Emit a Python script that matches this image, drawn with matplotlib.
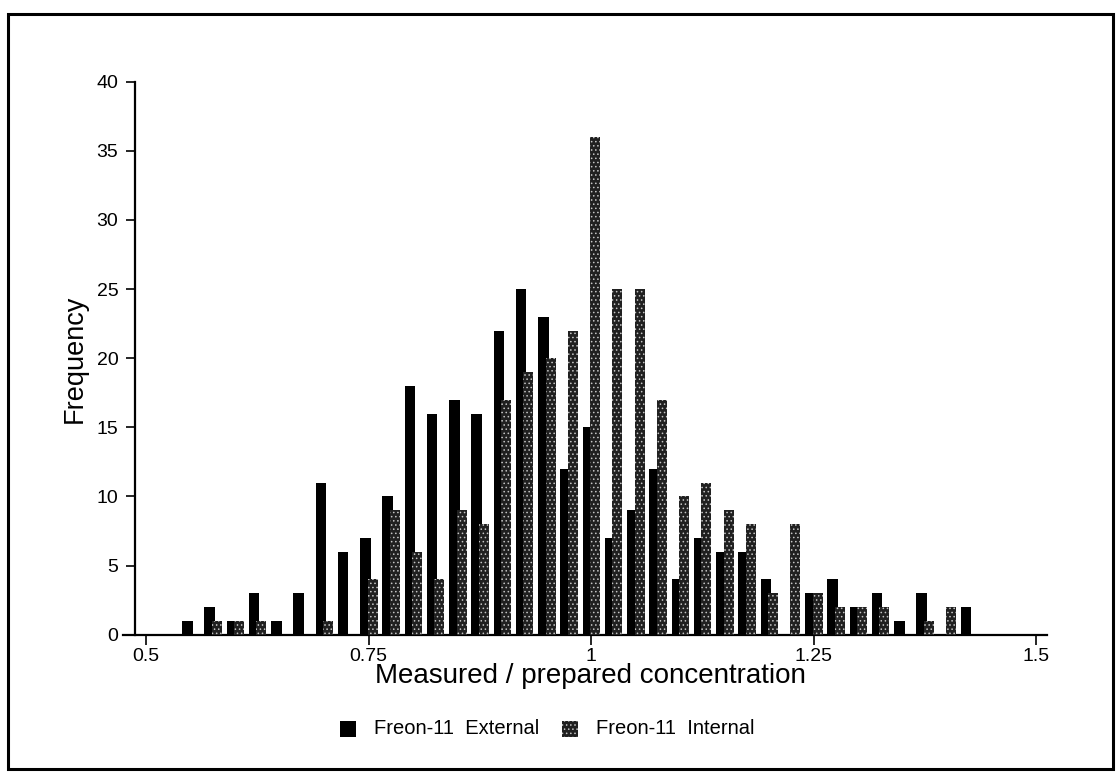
import matplotlib
matplotlib.use("Agg")
import matplotlib.pyplot as plt
from matplotlib import font_manager
from matplotlib.patches import Rectangle

# Histogram of measured / prepared concentration ratios (bin centres, width 0.025)
bin_centers = [0.55, 0.575, 0.6, 0.625, 0.65, 0.675, 0.7, 0.725, 0.75, 0.775,
               0.8, 0.825, 0.85, 0.875, 0.9, 0.925, 0.95, 0.975, 1.0, 1.025,
               1.05, 1.075, 1.1, 1.125, 1.15, 1.175, 1.2, 1.225, 1.25, 1.275,
               1.3, 1.325, 1.35, 1.375, 1.4, 1.425]
external = [1, 2, 1, 3, 1, 3, 11, 6, 7, 10,
            18, 16, 17, 16, 22, 25, 23, 12, 15, 7,
            9, 12, 4, 7, 6, 6, 4, 0, 3, 4,
            2, 3, 1, 3, 0, 2]
internal = [0, 1, 1, 1, 0, 0, 1, 0, 4, 9,
            6, 4, 9, 8, 17, 19, 20, 22, 36, 25,
            25, 17, 10, 11, 9, 8, 3, 8, 3, 2,
            2, 2, 0, 1, 2, 0]

x_ticks = [0.5, 0.75, 1.0, 1.25, 1.5]
x_tick_labels = ["0.5", "0.75", "1", "1.25", "1.5"]
y_ticks = [0, 5, 10, 15, 20, 25, 30, 35, 40]
series_names = ["Freon-11  External", "Freon-11  Internal"]

installed = {f.name for f in font_manager.fontManager.ttflist}
regular = "Liberation Sans" if "Liberation Sans" in installed else "DejaVu Sans"
fam = [regular, "DejaVu Sans"]

W, H = 1120, 778
fig = plt.figure(figsize=(W / 100, H / 100), dpi=100)
fig.patch.set_facecolor("white")

def fx(px):
    return px / W

def fy(py):
    return 1 - py / H

# outer frame
fig.patches.append(Rectangle((fx(8), fy(769)), fx(1113) - fx(8), fy(14) - fy(769),
                             transform=fig.transFigure, fill=False,
                             edgecolor="black", linewidth=2.2))

ax_left, ax_right = 123, 1047
ax_bottom, ax_top = 634.7, 81.7
ax = fig.add_axes([fx(ax_left), fy(ax_bottom), fx(ax_right) - fx(ax_left),
                   fy(ax_top) - fy(ax_bottom)])

px_per_unit = 890.0
x0 = 0.5 + (ax_left - 146) / px_per_unit
x1 = 0.5 + (ax_right - 146) / px_per_unit
ax.set_xlim(x0, x1)
ax.set_ylim(0, 40)

plt.rcParams["hatch.color"] = "#c4c4c4"
plt.rcParams["hatch.linewidth"] = 0.6

grey = "#202020"
ext_x = [c - 0.0035 for c in bin_centers]
int_x = [c + 0.0047 for c in bin_centers]
ax.bar(ext_x, external, width=0.0120, color="black", linewidth=0, zorder=2)
ax.bar(int_x, internal, width=0.0113, color=grey, hatch="....",
       linewidth=0, zorder=3)

for side in ("top", "right"):
    ax.spines[side].set_visible(False)
ax.spines["left"].set_position(("data", 0.5 + (135 - 146) / px_per_unit))
ax.spines["left"].set_linewidth(1.6)
ax.spines["bottom"].set_linewidth(1.6)

ax.set_xticks(x_ticks)
ax.set_xticklabels(x_tick_labels)
ax.set_yticks(y_ticks)
ax.tick_params(axis="y", direction="out", length=6.5, width=1.2, pad=5.5,
               labelsize=14)
ax.tick_params(axis="x", direction="out", length=7.0, width=1.2, pad=2.5,
               labelsize=14)
for lab in ax.get_xticklabels() + ax.get_yticklabels():
    lab.set_family(fam)

fig.text(fx(75), fy(359), "Frequency", rotation=90, ha="center", va="center",
         fontsize=19.5, family=fam)
fig.text(fx(590), fy(676), "Measured / prepared concentration", ha="center",
         va="center", fontsize=20, family=fam)

# legend drawn as swatches + labels
sq = 16
leg_y = 729
swatches = [(340, "black", None), (562, grey, "....")]
text_x = [374, 596]
for (sx, col, hatch), tx, name in zip(swatches, text_x, series_names):
    fig.patches.append(Rectangle((fx(sx), fy(leg_y + sq / 2)), fx(sq), sq / H,
                                 transform=fig.transFigure, facecolor=col,
                                 hatch=hatch, linewidth=0))
    fig.text(fx(tx), fy(leg_y), name, ha="left", va="center", fontsize=14.5,
             family=fam)

fig.savefig("out.png", dpi=100)
